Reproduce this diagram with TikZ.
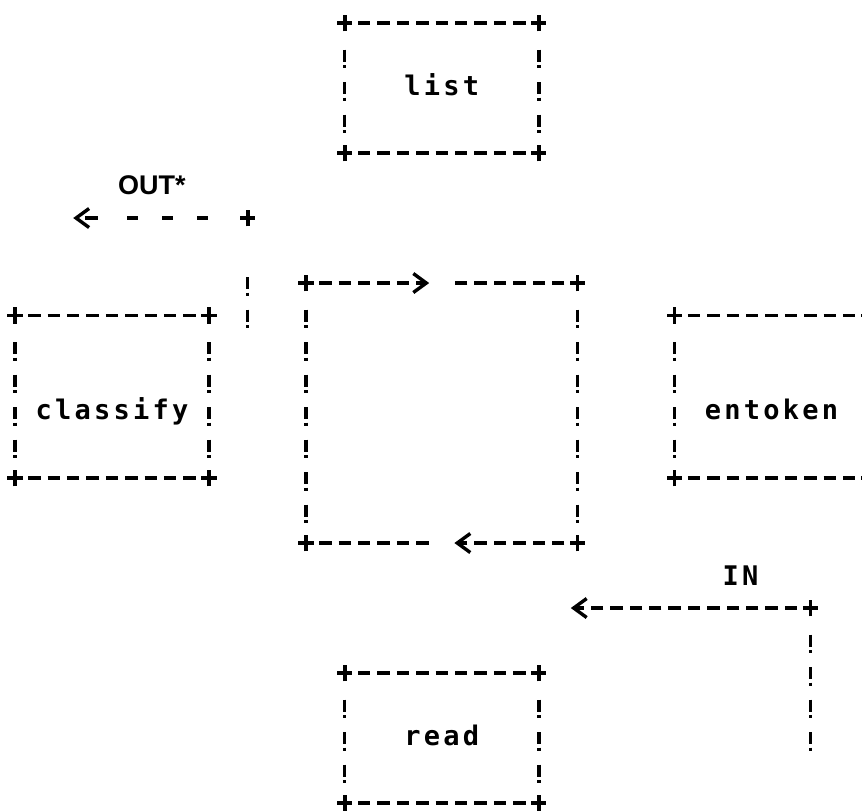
\documentclass[tikz,border=0pt]{standalone}
\usepackage{fontspec}
\usepackage{tikz}
\usetikzlibrary{arrows.meta}
\newfontfamily\dotfont[LetterSpace=12]{DejaVu Sans Mono}
\newfontfamily\outfont{Liberation Sans}

\begin{document}
\begin{tikzpicture}[x=9.7pt, y=-16.25pt,
  hrule/.style={line width=1.7pt, dash pattern=on 6.2pt off 3.5pt, dash phase=3.1pt},
  vrule/.style={line width=1.7pt, dash pattern=on 6pt off 1.8pt on 1.6pt off 6.85pt, dash phase=11.125pt},
  outrule/.style={line width=1.7pt, dash pattern=on 0pt off 20pt on 5.5pt off 12pt on 5.5pt off 12pt on 5.5pt off 14.5pt on 6.5pt off 20pt},
  barb/.style={-{Straight Barb[length=6.5pt, width=9.5pt]}},
  box/.style={minimum width=97pt, minimum height=65pt, inner sep=0pt, outer sep=0pt,
    font=\dotfont\bfseries\fontsize{13.5}{13.5}\selectfont, text height=9pt, text depth=1.8pt},
  tallbox/.style={box, minimum height=81.25pt, text height=25pt},
  lbl/.style={font=\dotfont\bfseries\fontsize{13.5}{13.5}\selectfont},
  outlbl/.style={font=\outfont\bfseries\fontsize{13.5}{13.5}\selectfont},
  pics/corner/.style={code={\draw[line width=1.8pt] (-3.8pt,0pt)--(3.8pt,0pt) (0pt,-4.2pt)--(0pt,4.2pt);}}
]
\useasboundingbox (-0.773,-0.708) rectangle (43.66,24.215);
\clip (-0.773,-0.708) rectangle (43.66,24.215);

% the boxes
\node[box] (list) at (22,2) {list};
\node[tallbox] (classify) at (5,11.5) {classify};
\node[tallbox] (entoken) at (39,11.5) {entoken};
\node[box] (read) at (22,22) {read};
\node[minimum width=135.8pt, minimum height=130pt, inner sep=0pt, outer sep=0pt] (loop) at (22,12) {};

\foreach \b in {list,classify,entoken,read}{
  \draw[hrule] (\b.north west) -- (\b.north east);
  \draw[hrule] (\b.south west) -- (\b.south east);
  \draw[vrule] (\b.north west) ++(0,0.5) -- (\b.south west);
  \draw[vrule] (\b.north east) ++(0,0.5) -- (\b.south east);
}
\foreach \b in {list,classify,entoken,read,loop}
  \foreach \a in {north west,north east,south west,south east}
    \pic at (\b.\a) {corner};

% the loop in the middle
\draw[hrule, barb] (loop.north west) -- ++(6.35,0);
\draw[hrule] (loop.north east) -- ++(-6.35,0);
\draw[hrule] (loop.south west) -- ++(6.35,0);
\draw[hrule, barb] (loop.south east) -- ++(-6.35,0);
\draw[vrule] (loop.north west) ++(0,0.5) -- (loop.south west);
\draw[vrule] (loop.north east) ++(0,0.5) -- (loop.south east);

% OUT*
\coordinate (outcorner) at (12,6);
\coordinate (outtip) at (3,6);
\node[outlbl] (outlabel) at (7.05,5) {OUT*};
\draw[vrule] (outcorner) ++(0,1.5) -- ++(0,2);
\draw[outrule, barb] (outcorner) -- (outtip);
\pic at (outcorner) {corner};

% IN
\coordinate (incorner) at (41,18);
\coordinate (intip) at (28.65,18);
\node[lbl] (inlabel) at (37.4,17) {IN};
\draw[vrule] (incorner) ++(0,0.5) -- ++(0,4);
\draw[hrule, barb] (incorner) -- (intip);
\pic at (incorner) {corner};
\end{tikzpicture}
\end{document}
